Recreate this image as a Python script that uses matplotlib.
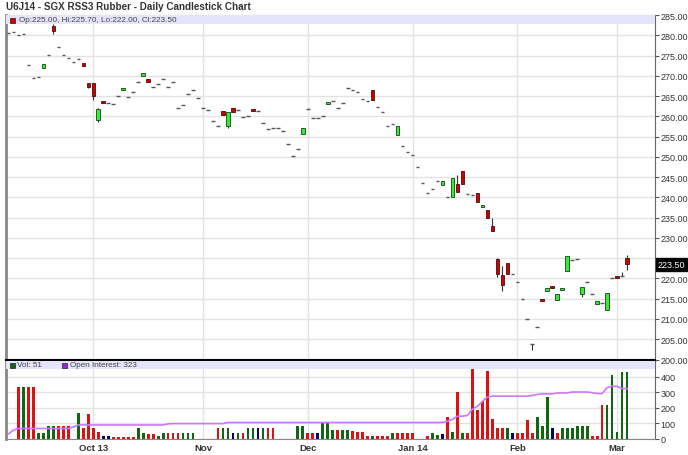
import numpy as np
import pandas as pd
import matplotlib
matplotlib.use('Agg')
import matplotlib.pyplot as plt
from matplotlib.patches import Rectangle

plt.rcParams['font.family'] = ['Liberation Sans', 'DejaVu Sans']

# trading days (SGX holidays skipped)
holidays = ['2013-10-15', '2013-12-25', '2014-01-01', '2014-01-31']
month_labels = ['Oct 13', 'Nov', 'Dec', 'Jan 14', 'Feb', 'Mar']

# OHLC, one row per month (Sep 6 2013 .. Mar 5 2014)
opens = [
    280.6, 280.7, 280.0, 280.3, 272.7, 269.4, 269.8, 272.0, 275.2, 282.4, 277.2, 275.1, 274.5, 273.5, 274.2, 273.1, 268.2,
    268.2, 259.0, 263.7, 263.3, 263.0, 265.1, 266.5, 264.8, 266.1, 268.5, 270.0, 269.2, 267.2, 268.0, 269.3, 267.2, 268.4, 262.1, 262.8, 265.6, 266.6, 264.4,
    262.1, 261.6, 258.8, 257.5, 261.2, 257.5, 262.0, 261.6, 259.8, 260.2, 261.8, 261.3, 258.3, 256.8, 257.0, 257.0, 256.5, 253.2, 250.2, 252.0, 255.6,
    261.7, 259.6, 259.7, 260.1, 263.1, 263.8, 262.0, 263.3, 267.0, 266.4, 266.0, 264.2, 263.7, 266.6, 262.2, 261.0, 257.5, 258.2, 255.5, 252.7, 251.3,
    250.4, 247.5, 243.5, 241.0, 242.0, 244.1, 243.1, 240.1, 240.1, 243.2, 246.6, 240.8, 240.6, 241.1, 237.7, 237.0, 233.0, 224.9, 220.9, 223.9, 221.0,
    219.1, 214.9, 209.9, 203.9, 207.9, 214.9, 217.0, 218.1, 214.8, 217.1, 221.8, 224.6, 224.8, 216.2, 219.0, 216.1, 213.8, 214.0, 212.1, 220.0,
    220.5, 220.6, 225.0]
highs = [
    280.6, 280.7, 280.0, 280.3, 272.7, 269.4, 269.8, 272.9, 275.2, 282.7, 277.2, 275.1, 274.5, 273.5, 274.2, 273.2, 268.3,
    268.3, 262.0, 263.8, 263.3, 263.0, 265.1, 266.9, 264.8, 266.1, 268.5, 270.6, 269.2, 267.2, 268.0, 269.3, 267.2, 268.4, 262.1, 262.8, 265.6, 266.6, 264.4,
    262.1, 261.6, 258.8, 257.5, 261.3, 261.0, 262.1, 261.6, 259.8, 260.2, 261.8, 261.3, 258.3, 256.8, 257.0, 257.0, 256.5, 253.2, 250.2, 252.0, 257.2,
    261.7, 259.6, 259.7, 260.1, 263.6, 263.8, 262.0, 263.3, 267.0, 266.4, 266.0, 264.2, 263.7, 266.6, 262.2, 261.0, 257.5, 258.2, 257.5, 252.7, 251.3,
    250.4, 247.5, 243.5, 241.0, 242.0, 244.1, 244.0, 240.1, 244.8, 245.6, 246.6, 240.8, 240.6, 241.1, 238.1, 237.0, 234.9, 225.0, 223.0, 223.9, 221.0,
    219.1, 214.9, 209.9, 203.9, 207.9, 214.9, 217.7, 218.1, 216.1, 217.6, 225.6, 224.6, 224.8, 217.9, 219.0, 216.1, 214.5, 214.0, 216.4, 220.0,
    220.5, 221.6, 225.7]
lows = [
    280.6, 280.7, 280.0, 280.3, 272.7, 269.4, 269.8, 271.9, 275.2, 280.3, 277.2, 275.1, 274.5, 273.5, 274.2, 272.4, 267.1,
    264.1, 258.7, 263.2, 263.3, 263.0, 265.1, 266.5, 264.8, 266.1, 268.5, 270.0, 268.4, 267.2, 268.0, 269.3, 267.2, 268.4, 262.1, 262.8, 265.6, 266.6, 264.4,
    262.1, 261.6, 258.8, 257.5, 260.3, 257.2, 261.0, 261.6, 259.8, 260.2, 261.2, 261.3, 258.3, 256.8, 257.0, 257.0, 256.5, 253.2, 250.2, 252.0, 255.6,
    261.7, 259.6, 259.7, 260.1, 263.1, 263.8, 262.0, 263.3, 267.0, 266.4, 266.0, 264.2, 263.7, 264.0, 262.2, 261.0, 257.5, 258.2, 255.5, 252.7, 251.3,
    250.4, 247.5, 243.5, 241.0, 242.0, 244.1, 243.1, 240.1, 240.1, 241.4, 243.2, 240.8, 240.6, 238.8, 237.7, 235.0, 231.7, 220.3, 216.9, 221.1, 221.0,
    219.1, 214.9, 209.9, 202.3, 207.9, 214.5, 217.0, 217.7, 214.8, 217.1, 221.8, 224.6, 224.8, 215.4, 219.0, 216.1, 213.8, 214.0, 212.1, 220.0,
    220.1, 220.6, 222.0]
closes = [
    280.6, 280.7, 280.0, 280.3, 272.7, 269.4, 269.8, 272.8, 275.2, 281.0, 277.2, 275.1, 274.5, 273.5, 274.2, 272.5, 267.2,
    265.1, 261.9, 263.3, 263.3, 263.0, 265.1, 266.9, 264.8, 266.1, 268.5, 270.6, 268.4, 267.2, 268.0, 269.3, 267.2, 268.4, 262.1, 262.8, 265.6, 266.6, 264.4,
    262.1, 261.6, 258.8, 257.5, 260.3, 261.0, 261.0, 261.6, 259.8, 260.2, 261.2, 261.3, 258.3, 256.8, 257.0, 257.0, 256.5, 253.2, 250.2, 252.0, 257.2,
    261.7, 259.6, 259.7, 260.1, 263.6, 263.8, 262.0, 263.3, 267.0, 266.4, 266.0, 264.2, 263.7, 264.0, 262.2, 261.0, 257.5, 258.2, 257.5, 252.7, 251.3,
    250.4, 247.5, 243.5, 241.0, 242.0, 244.1, 244.0, 240.1, 244.8, 241.4, 243.2, 240.8, 240.6, 238.8, 238.1, 235.0, 231.7, 221.1, 218.4, 221.1, 221.0,
    219.1, 214.9, 209.9, 203.9, 207.9, 214.5, 217.7, 217.7, 216.1, 217.6, 225.6, 224.6, 224.8, 217.9, 219.0, 216.1, 214.5, 214.0, 216.4, 220.0,
    220.1, 220.6, 223.5]

volume = [
    0, 0, 336, 336, 336, 336, 37, 37, 80, 80, 80, 80, 80, 0, 167, 69, 162,
    65, 43, 15, 15, 12, 12, 12, 12, 12, 65, 37, 26, 26, 15, 37, 37, 37, 37, 37, 37, 37, 0,
    0, 0, 0, 69, 69, 69, 37, 37, 37, 69, 69, 69, 69, 69, 69, 0, 0, 0, 0, 80, 80,
    37, 37, 37, 102, 102, 52, 52, 52, 52, 47, 40, 40, 15, 15, 15, 15, 15, 35, 35, 35, 35,
    35, 0, 0, 15, 35, 25, 30, 138, 43, 303, 37, 37, 459, 188, 242, 441, 128, 65, 65, 69, 37,
    37, 37, 119, 37, 138, 80, 268, 69, 37, 69, 69, 69, 80, 80, 80, 15, 15, 220, 220, 415,
    40, 430, 430]
# r = down, g = up, b = unchanged
vol_dir = ('..rgrrggggrrr.grr' + 'rrbbrrrrrggrrggrrrggg.' + '...rggbgrggbgrr....gg'
           + 'rrbgggrggrrrrgrrrgrrr' + 'r..rggbrgrgrrrrrrrrgb' + 'rrrrgggbrggggggrrrgg' + 'ggg')
open_interest = [
    30, 55, 65, 65, 65, 65, 65, 65, 65, 65, 65, 65, 65, 75, 88, 88, 88,
    88, 88, 88, 88, 88, 88, 88, 88, 88, 88, 88, 88, 88, 88, 88, 95, 97, 97, 97, 97, 97, 97,
    97, 97, 97, 97, 97, 104, 104, 104, 104, 104, 104, 104, 104, 104, 104, 104, 104, 104, 104, 104, 104,
    104, 104, 104, 104, 104, 104, 104, 104, 104, 104, 104, 104, 104, 104, 104, 104, 104, 104, 104, 104, 104,
    104, 104, 104, 104, 104, 104, 104, 112, 125, 145, 145, 150, 190, 210, 240, 270, 275, 275, 275, 275, 275,
    275, 275, 275, 280, 286, 290, 290, 290, 296, 296, 296, 302, 302, 302, 302, 298, 292, 292, 330, 340,
    338, 325, 323]

dates = pd.bdate_range('2013-09-06', '2014-03-05')
dates = dates[~dates.isin(pd.to_datetime(holidays))]
x = np.arange(len(dates))
per = dates.to_period('M')
month_pos = [i for i in range(1, len(dates)) if per[i] != per[i - 1]]

W, H = 688, 456
fig = plt.figure(figsize=(W / 100, H / 100), dpi=100)
ax = fig.add_axes([5.5 / W, 1 - 360.5 / H, 649.5 / W, 344.5 / H])
axv = fig.add_axes([5.5 / W, 1 - 439.5 / H, 649.5 / W, 78.5 / H])

grid_c = '#e2e2e2'
for a in (ax, axv):
    a.set_xlim(-0.6, len(dates) + 4.6)
    a.set_xticks(month_pos)
    a.grid(True, color=grid_c, lw=1)
    a.set_axisbelow(True)
    a.yaxis.tick_right()
    a.tick_params(axis='y', length=3, width=0.8, color='#555', labelsize=6.5, labelcolor='#333', pad=1)
    a.tick_params(axis='x', length=0)
    a.spines['left'].set_color('#888')
    a.spines['left'].set_linewidth(2)
    a.spines['right'].set_color('#666')
    a.spines['top'].set_color('#888')

# candles
bw = 0.72
for i in x:
    o, h, l, c = opens[i], highs[i], lows[i], closes[i]
    if h > l:
        ax.vlines(i, l, h, color='#333', lw=0.8, zorder=2)
    if c > o:
        ax.bar(i, c - o, bw, bottom=o, color='#33ee33', edgecolor='#184018', lw=0.6, zorder=3)
    elif c < o:
        ax.bar(i, max(o - c, 0.4), bw, bottom=c, color='#d40000', edgecolor='#401010', lw=0.6, zorder=3)
    else:
        ax.hlines(c, i - bw / 2, i + bw / 2, color='#555', lw=1, zorder=3)

ax.set_ylim(200, 285)
yt = np.arange(200, 286, 5)
ax.set_yticks(yt)
ax.set_yticklabels(['' if v == 225 else '%.2f' % v for v in yt])
ax.set_xticklabels([])
ax.spines['bottom'].set_visible(False)

# last price tag
ax.text(1.004, closes[-1], '%.2f' % closes[-1], transform=ax.get_yaxis_transform(),
        color='white', fontsize=6.5, va='center', ha='left',
        bbox=dict(boxstyle='square,pad=0.2', fc='black', ec='black'))

# legend bands
ax.add_patch(Rectangle((0, 1 - 9 / 344.5), 1, 9 / 344.5, transform=ax.transAxes,
                       fc='#e4e4fb', ec='none', zorder=4))
ax.add_patch(Rectangle((4 / 649.5, 1 - 8 / 344.5), 5 / 649.5, 5 / 344.5, transform=ax.transAxes,
                       fc='#d40000', ec='#401010', lw=0.5, zorder=5))
ax.text(13.5 / 649.5, 1 - 4.8 / 344.5, 'Op:225.00, Hi:225.70, Lo:222.00, Cl:223.50',
        transform=ax.transAxes, fontsize=5.9, color='#444', va='center', zorder=5)

# volume panel
vcol = {'r': '#dd1111', 'g': '#116611', 'b': '#000066', '.': 'white'}
axv.bar(x, volume, 0.55, color=[vcol[d] for d in vol_dir], zorder=2)
axv.plot(x, open_interest, color='#cc77ff', lw=1.2, zorder=3)
axv.set_ylim(0, 510)
axv.set_yticks([0, 100, 200, 300, 400])
axv.set_yticklabels(['0', '100', '200', '300', '400'])
axv.set_xticklabels(month_labels, fontsize=6.8, fontweight='bold', color='#333')
axv.tick_params(axis='x', pad=3)
axv.spines['top'].set_color('black')
axv.spines['top'].set_linewidth(1.5)
axv.spines['bottom'].set_color('#888')
axv.add_patch(Rectangle((0, 1 - 9 / 78.5), 1, 8 / 78.5, transform=axv.transAxes,
                        fc='#e4e4fb', ec='none', zorder=4))
axv.add_patch(Rectangle((4.5 / 649.5, 1 - 7.5 / 78.5), 5 / 649.5, 5 / 78.5, transform=axv.transAxes,
                        fc='#116611', ec='#222', lw=0.5, zorder=5))
axv.text(11.5 / 649.5, 1 - 5 / 78.5, 'Vol: 51', transform=axv.transAxes,
         fontsize=5.9, color='#444', va='center', zorder=5)
axv.add_patch(Rectangle((57 / 649.5, 1 - 7.5 / 78.5), 5 / 649.5, 5 / 78.5, transform=axv.transAxes,
                        fc='#9922ee', ec='#222', lw=0.5, zorder=5))
axv.text(64.5 / 649.5, 1 - 5 / 78.5, 'Open Interest: 323', transform=axv.transAxes,
         fontsize=5.9, color='#444', va='center', zorder=5)

fig.text(6 / W, 1 - 7.5 / H, 'U6J14 - SGX RSS3 Rubber - Daily Candlestick Chart',
         fontsize=7.1, fontweight='bold', color='#333', va='center')

fig.savefig('out.png', dpi=100)
